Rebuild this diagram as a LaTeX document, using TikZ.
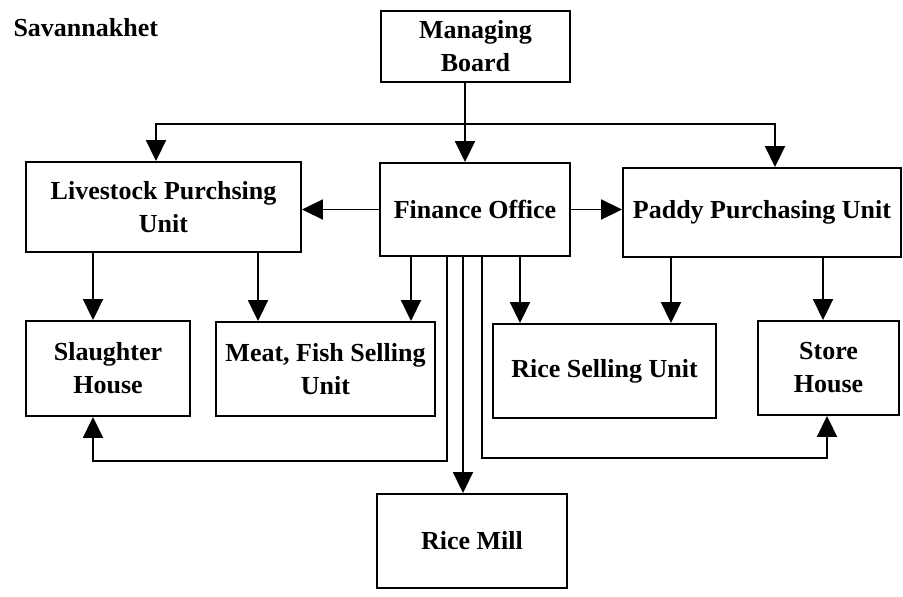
\documentclass[tikz,border=0pt]{standalone}
\usepackage{fontspec}
\setmainfont{Liberation Serif}
\usetikzlibrary{arrows.meta}
\begin{document}
\begin{tikzpicture}[x=1pt,y=-1pt,
  box/.style={draw,line width=1.9pt,rectangle,inner sep=0pt,align=center,
    font=\fontsize{26}{33}\selectfont\bfseries},
  conn/.style={line width=1.9pt},
  arr/.style={conn,-{Triangle[length=21pt,width=20pt]}}]
\useasboundingbox (0,0) rectangle (903,597);
\node[anchor=base west,font=\fontsize{26}{33}\selectfont\bfseries] (title) at (10,36) {Savannakhet};
\node[box,minimum width=189pt,minimum height=71pt] (MB) at (475.5,46.5) {Managing\\Board};
\node[box,minimum width=275pt,minimum height=90pt] (LPU) at (163.5,207) {Livestock Purchsing\\Unit};
\node[box,minimum width=190pt,minimum height=93pt] (FO) at (475,209.5) {Finance Office};
\node[box,minimum width=278pt,minimum height=89pt] (PPU) at (762,212.5) {Paddy Purchasing Unit};
\node[box,minimum width=164pt,minimum height=95pt] (SH) at (108,368.5) {Slaughter\\House};
\node[box,minimum width=219pt,minimum height=94pt] (MF) at (325.5,369) {Meat, Fish Selling\\Unit};
\node[box,minimum width=223pt,minimum height=94pt] (RSU) at (604.5,371) {Rice Selling Unit};
\node[box,minimum width=141pt,minimum height=94pt] (ST) at (828.5,368) {Store\\House};
\node[box,minimum width=190pt,minimum height=94pt] (RM) at (472,541) {Rice Mill};
% junction coordinates
\coordinate (j) at (465,124);
\coordinate (jl) at (156,124);
\coordinate (jr) at (775,124);
\coordinate (cSH) at (93,0);
\coordinate (cMF1) at (258,0);
\coordinate (cMF2) at (411,0);
\coordinate (cSH2) at (447,461);
\coordinate (cRM) at (463,0);
\coordinate (cST2) at (482,458);
\coordinate (cRSU1) at (520,0);
\coordinate (cRSU2) at (671,0);
\coordinate (cST) at (823,0);
\coordinate (cST3) at (827,0);
% managing board
\draw[arr] (MB.south -| j) -- (FO.north -| j);
\draw[arr] (j) -- (jl) -- (LPU.north -| jl);
\draw[arr] (j) -- (jr) -- (PPU.north -| jr);
% finance sideways
\draw[arr] (FO.west) -- (FO.west -| LPU.east);
\draw[arr] (FO.east) -- (FO.east -| PPU.west);
% downward
\draw[arr] (LPU.south -| cSH) -- (SH.north -| cSH);
\draw[arr] (LPU.south -| cMF1) -- (MF.north -| cMF1);
\draw[arr] (FO.south -| cMF2) -- (MF.north -| cMF2);
\draw[arr] (FO.south -| cRSU1) -- (RSU.north -| cRSU1);
\draw[arr] (PPU.south -| cRSU2) -- (RSU.north -| cRSU2);
\draw[arr] (PPU.south -| cST) -- (ST.north -| cST);
\draw[arr] (FO.south -| cRM) -- (RM.north -| cRM);
% loops
\draw[arr] (FO.south -| cSH2) -- (cSH2) -- (cSH2 -| cSH) -- (SH.south -| cSH);
\draw[arr] (FO.south -| cST2) -- (cST2) -- (cST2 -| cST3) -- (ST.south -| cST3);
\end{tikzpicture}
\end{document}
